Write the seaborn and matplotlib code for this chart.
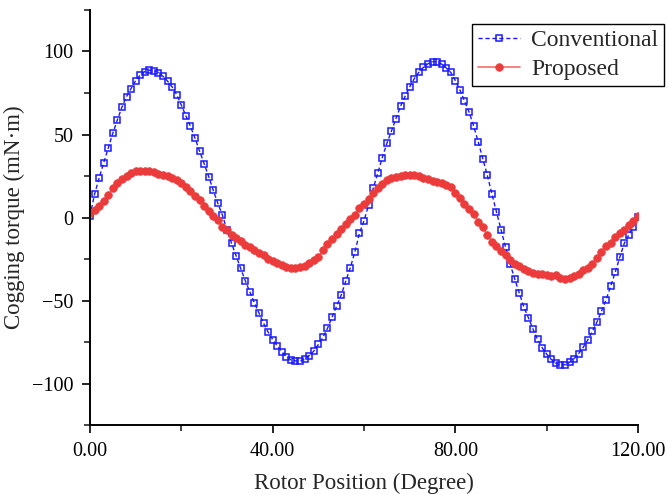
import matplotlib
matplotlib.use("Agg")
import matplotlib.pyplot as plt
from matplotlib.ticker import MultipleLocator, FormatStrFormatter
import seaborn as sns
import pandas as pd

# Rotor position (degree), sampled every degree
rotor_position = list(range(0, 121))

# Cogging torque of the conventional machine (mN·m)
conventional = [
    1, 14, 23.7, 33, 41.8, 50.8, 58.8, 66.5, 72.8, 77.7,
    82.5, 85.8, 87.9, 88.7, 88.5, 87.3, 85, 82.1, 78.6, 73.9,
    67.7, 61.3, 54.9, 47.8, 40, 32.4, 24.6, 16.3, 8.5, 1.4,
    -7.6, -15.6, -23.1, -30.7, -38, -44.8, -51.4, -57.5, -63.7, -69,
    -73.5, -77.4, -80.8, -83.8, -85.8, -86.4, -86.4, -85.5, -83.2, -80.5,
    -76.5, -72.2, -66.8, -60, -53.5, -46.8, -38.4, -30.2, -20.8, -9.5,
    -1.9, 7.5, 17.5, 26.6, 36, 44.6, 52, 59.6, 67, 73,
    78.6, 83.6, 87.4, 90.4, 92.6, 93.8, 93.9, 92.4, 90.1, 87.4,
    82.5, 76.8, 70.2, 63.6, 55.2, 45.7, 35.5, 25.4, 14.3, 3.4,
    -7.3, -18, -28, -37, -45.5, -53.9, -60.4, -67.2, -73.4, -78.4,
    -82.3, -85.5, -87.7, -88.9, -88.7, -87.2, -85, -82, -78.2, -73.7,
    -68.6, -63, -56.5, -49.5, -41.5, -33, -24, -15.5, -10.5, -5.5,
    0.5,
]

# Cogging torque of the proposed machine (mN·m)
proposed = [
    2.5, 4.4, 7.1, 10.2, 13.6, 17.5, 20.7, 23.1, 25.3, 27,
    27.8, 28, 28, 27.9, 27.3, 26.3, 25.5, 24.9, 24, 22.6,
    20.8, 18.3, 15.7, 13, 10.3, 7.2, 4.2, 1.1, -1.8, -5.5,
    -7.8, -10.3, -12.2, -14.1, -16.3, -18, -19.5, -21.4, -22.5, -25.1,
    -26.5, -27.5, -28.6, -29.7, -30.4, -30.3, -29.8, -29.1, -27.4, -25.6,
    -24, -19.7, -16.1, -13.1, -9.8, -6.8, -3.7, -0.9, 1.7, 5.5,
    7.9, 11.2, 14.8, 17.6, 20, 22.3, 23.6, 24.5, 25.2, 25.5,
    25.6, 25.5, 24.9, 24, 23.4, 21.9, 21.3, 21, 19.6, 18.3,
    14.6, 11.9, 8.3, 5.2, 2.2, -2.5, -5.9, -10.4, -14.5, -17.2,
    -20.2, -22.8, -25.6, -27.8, -29.2, -30.8, -32.3, -33.2, -33.9, -34.1,
    -34.8, -35.3, -34.5, -36.2, -36.8, -36.6, -35.5, -33.8, -31.9, -30.2,
    -27.9, -24.5, -20.7, -17.4, -15.3, -11.8, -9.3, -7.3, -4.6, -2,
    0.8,
]

series_names = ["Conventional", "Proposed"]
x_ticks = [0, 40, 80, 120]
y_ticks = [-100, -50, 0, 50, 100]

sns.set_theme(style="ticks")
plt.rcParams["font.family"] = ["Liberation Serif", "DejaVu Serif"]

df = pd.DataFrame({
    "position": rotor_position,
    series_names[0]: conventional,
    series_names[1]: proposed,
})

fig = plt.figure(figsize=(6.69, 4.95), dpi=100)
ax = fig.add_axes([0.1345, 0.1414, 0.8192, 0.8384])

sns.lineplot(
    data=df, x="position", y=series_names[0], ax=ax,
    color="#1a1aff", linestyle=(0, (3, 2)), linewidth=1.0,
    marker="s", markersize=5, markerfacecolor="none",
    markeredgecolor="#1a1aff", markeredgewidth=1.1,
    label=series_names[0],
)
sns.lineplot(
    data=df, x="position", y=series_names[1], ax=ax,
    color="#f07070", linewidth=1.2,
    marker="o", markersize=5.5, markerfacecolor="#ec3b3b",
    markeredgecolor="#ec3b3b", markeredgewidth=0.5,
    label=series_names[1],
)

ax.set_xlim(0, 120)
ax.set_ylim(-125, 125)
ax.set_xticks(x_ticks)
ax.set_yticks(y_ticks)
ax.xaxis.set_major_formatter(FormatStrFormatter("%.2f"))
ax.xaxis.set_minor_locator(MultipleLocator(20))
ax.yaxis.set_minor_locator(MultipleLocator(25))
ax.tick_params(which="major", direction="out", length=6, width=1.2,
               labelsize=14.5, colors="black", pad=6)
ax.tick_params(which="minor", direction="out", length=4, width=1.2)
ax.set_yticklabels([str(v).replace("-", "\u2212") for v in y_ticks])

for side in ("top", "right"):
    ax.spines[side].set_visible(False)
for side in ("left", "bottom"):
    ax.spines[side].set_linewidth(1.4)
    ax.spines[side].set_color("black")

ax.set_xlabel("Rotor Position (Degree)", fontsize=16.5, labelpad=9)
ax.set_ylabel("Cogging torque (mN\u00b7m)", fontsize=16.5, labelpad=5)

ax.get_legend().remove()
handles, labels = ax.get_legend_handles_labels()
leg = fig.legend(
    handles, labels, loc="upper right", bbox_to_anchor=(0.9925, 0.9515),
    fontsize=17, frameon=True, fancybox=False, edgecolor="black",
    framealpha=1, borderaxespad=0, handlelength=1.8, borderpad=0.25,
    labelspacing=0.3, handletextpad=0.45,
)
leg.get_frame().set_linewidth(1.0)

fig.savefig("out.png", dpi=100)
